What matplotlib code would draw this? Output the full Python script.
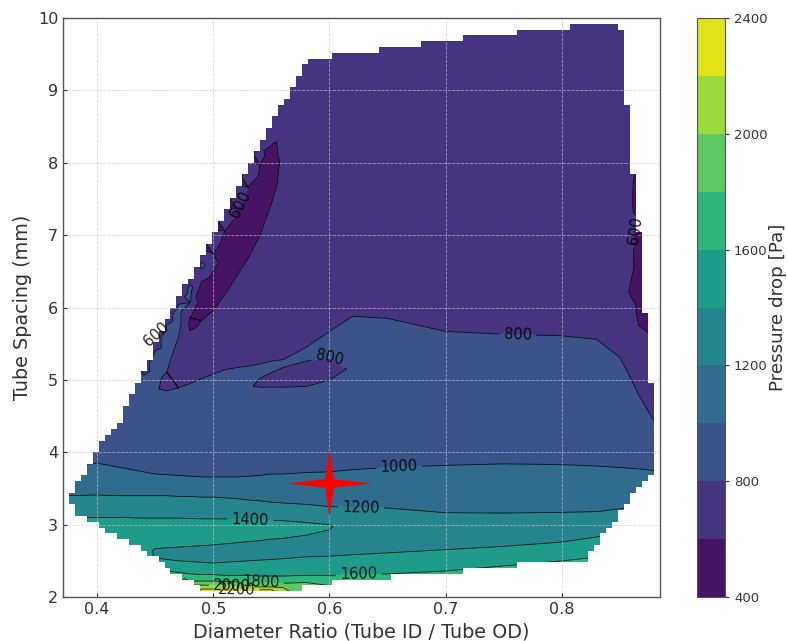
import numpy as np
import matplotlib
matplotlib.use("Agg")
import matplotlib.pyplot as plt
import matplotlib.tri as mtri
from matplotlib.path import Path
from matplotlib.colors import ListedColormap

# pressure drop [Pa] read along lines of constant diameter ratio
# diameter ratio -> [(tube spacing mm, pressure drop Pa), ...]
profiles = {
    0.370: [(1.95, 1500), (2.90, 1480), (3.10, 1400), (3.40, 1200), (3.80, 1000), (4.40, 920), (5.50, 880), (10.05, 850)],
    0.400: [(1.95, 1520), (2.90, 1480), (3.10, 1400), (3.41, 1200), (3.85, 1000), (4.40, 920), (5.50, 880), (10.05, 850)],
    0.420: [(1.95, 1540), (2.85, 1480), (3.10, 1400), (3.40, 1200), (3.79, 1000), (4.40, 910), (5.50, 870), (10.05, 850)],
    0.440: [(1.95, 1600), (2.45, 1520), (2.75, 1480), (3.09, 1400), (3.40, 1200), (3.73, 1000), (4.40, 900), (4.99, 860),
            (5.14, 740), (5.29, 560), (10.05, 700)],
    0.450: [(1.95, 1750), (2.40, 1500), (2.54, 1400), (2.60, 1375), (2.67, 1400), (2.88, 1480), (3.09, 1400), (3.40, 1200),
            (3.70, 1000), (4.30, 900), (4.82, 820), (5.10, 850), (5.33, 860), (5.48, 740), (5.63, 560), (10.05, 700)],
    0.460: [(1.95, 1850), (2.36, 1600), (2.52, 1400), (2.60, 1355), (2.68, 1400), (2.88, 1480), (3.09, 1400), (3.40, 1200),
            (3.69, 1000), (4.30, 900), (4.85, 800), (4.98, 760), (5.11, 800), (5.40, 860), (5.68, 860), (5.83, 740),
            (5.98, 560), (10.05, 700)],
    0.470: [(1.95, 1950), (2.34, 1600), (2.50, 1400), (2.60, 1345), (2.69, 1400), (2.88, 1480), (3.09, 1400), (3.39, 1200),
            (3.68, 1000), (4.30, 900), (4.89, 800), (5.24, 720), (5.59, 800), (5.80, 860), (5.97, 860), (6.12, 740),
            (6.27, 560), (10.05, 700)],
    0.480: [(1.95, 2250), (2.17, 2000), (2.22, 1800), (2.32, 1600), (2.49, 1400), (2.60, 1340), (2.70, 1400), (2.87, 1480),
            (3.085, 1400), (3.39, 1200), (3.67, 1000), (4.30, 900), (4.95, 800), (5.30, 705), (5.60, 630), (5.68, 600),
            (5.77, 565), (5.86, 600), (5.96, 700), (6.07, 800), (6.18, 860), (6.25, 860), (6.40, 740), (6.55, 560),
            (10.05, 700)],
    0.485: [(5.72, 600), (5.93, 540), (6.14, 600)],
    0.490: [(1.95, 2320), (2.11, 2200), (2.165, 2000), (2.22, 1800), (2.31, 1600), (2.48, 1400), (2.60, 1335), (2.71, 1400),
            (2.87, 1480), (3.08, 1400), (3.38, 1200), (3.66, 1000), (4.30, 900), (5.02, 800), (5.40, 700), (5.82, 600),
            (6.09, 520), (6.36, 600), (6.44, 700), (6.53, 800), (6.58, 850), (6.69, 740), (6.84, 560), (10.05, 700)],
    0.500: [(1.95, 2350), (2.05, 2300), (2.11, 2200), (2.16, 2000), (2.22, 1800), (2.31, 1600), (2.47, 1400), (2.60, 1330),
            (2.72, 1400), (2.87, 1480), (3.08, 1400), (3.38, 1200), (3.66, 1000), (4.30, 900), (5.08, 800), (5.50, 690),
            (5.96, 600), (6.36, 505), (6.75, 600), (6.86, 640), (6.99, 630), (7.17, 560), (10.05, 700)],
    0.510: [(1.95, 2380), (2.05, 2320), (2.105, 2200), (2.155, 2000), (2.215, 1800), (2.30, 1600), (2.48, 1400), (2.60, 1330),
            (2.735, 1400), (2.87, 1475), (3.08, 1400), (3.37, 1200), (3.66, 1000), (4.30, 900), (5.14, 800), (5.60, 700),
            (6.18, 600), (6.62, 500), (7.06, 600), (7.17, 640), (7.30, 630), (7.48, 560), (10.05, 700)],
    0.520: [(1.95, 2380), (2.05, 2330), (2.10, 2200), (2.15, 2000), (2.21, 1800), (2.30, 1600), (2.49, 1400), (2.61, 1330),
            (2.75, 1400), (2.88, 1470), (3.075, 1400), (3.36, 1200), (3.66, 1000), (4.30, 900), (5.17, 800), (5.80, 700),
            (6.43, 600), (6.90, 500), (7.37, 600), (7.48, 640), (7.62, 630), (7.80, 560), (10.05, 700)],
    0.530: [(1.95, 2380), (2.05, 2330), (2.10, 2200), (2.145, 2000), (2.21, 1800), (2.30, 1600), (2.50, 1400), (2.62, 1335),
            (2.765, 1400), (2.89, 1465), (3.07, 1400), (3.34, 1200), (3.67, 1000), (4.30, 900), (4.88, 815), (5.19, 800),
            (5.90, 700), (6.68, 600), (7.17, 505), (7.67, 600), (7.79, 640), (7.93, 630), (8.11, 560), (10.05, 700)],
    0.540: [(1.95, 2380), (2.05, 2320), (2.10, 2200), (2.14, 2000), (2.20, 1800), (2.29, 1600), (2.51, 1400), (2.63, 1340),
            (2.78, 1400), (2.90, 1455), (3.065, 1400), (3.33, 1200), (3.68, 1000), (4.30, 900), (4.90, 800), (4.96, 780),
            (5.02, 800), (5.12, 815), (5.22, 800), (6.00, 700), (6.99, 600), (7.48, 520), (7.98, 600), (8.10, 640),
            (8.24, 630), (8.42, 560), (10.05, 700)],
    0.548: [(8.08, 565)],
    0.550: [(1.95, 2350), (2.05, 2300), (2.10, 2200), (2.14, 2000), (2.195, 1800), (2.29, 1600), (2.52, 1400), (2.65, 1345),
            (2.80, 1400), (2.92, 1445), (3.06, 1400), (3.31, 1200), (3.70, 1000), (4.30, 900), (4.90, 800), (5.00, 765),
            (5.10, 800), (5.18, 815), (5.26, 800), (6.20, 700), (7.43, 600), (7.84, 550), (8.24, 600), (8.38, 640),
            (8.55, 640), (10.05, 690)],
    0.553: [(8.25, 590)],
    0.560: [(1.95, 2150), (2.13, 2000), (2.19, 1800), (2.29, 1600), (2.53, 1400), (2.66, 1350), (2.81, 1400), (2.93, 1440),
            (3.055, 1400), (3.30, 1200), (3.70, 1000), (4.30, 900), (4.90, 800), (5.035, 750), (5.17, 800), (5.22, 815),
            (5.28, 800), (6.30, 700), (7.60, 650), (8.10, 620), (8.50, 650), (8.82, 660), (10.05, 690)],
    0.580: [(1.95, 2000), (2.20, 1800), (2.30, 1600), (2.555, 1400), (2.71, 1320), (2.855, 1400), (2.95, 1425), (3.03, 1400),
            (3.28, 1200), (3.72, 1000), (4.30, 900), (4.91, 800), (5.085, 745), (5.26, 800), (5.35, 825), (5.45, 800),
            (6.50, 710), (8.50, 690), (10.05, 690)],
    0.600: [(1.95, 1900), (2.20, 1780), (2.30, 1600), (2.565, 1400), (2.75, 1300), (2.93, 1400), (2.965, 1405), (3.00, 1400),
            (3.25, 1200), (3.73, 1000), (4.30, 900), (5.00, 800), (5.15, 760), (5.30, 800), (5.48, 830), (5.67, 800),
            (6.50, 720), (10.05, 700)],
    0.620: [(1.95, 1850), (2.20, 1760), (2.31, 1600), (2.585, 1400), (2.80, 1310), (3.00, 1370), (3.24, 1200), (3.76, 1000),
            (4.30, 900), (5.15, 815), (5.50, 830), (5.88, 800), (6.60, 725), (10.05, 700)],
    0.650: [(1.95, 1800), (2.25, 1680), (2.32, 1600), (2.61, 1400), (2.90, 1310), (3.23, 1200), (3.79, 1000), (4.40, 900),
            (5.20, 850), (5.85, 800), (6.60, 730), (10.05, 700)],
    0.700: [(1.95, 1750), (2.36, 1600), (2.655, 1400), (2.95, 1300), (3.165, 1200), (3.82, 1000), (4.40, 900), (5.10, 860),
            (5.67, 800), (6.60, 730), (10.05, 700)],
    0.750: [(1.95, 1750), (2.43, 1600), (2.70, 1400), (2.95, 1300), (3.16, 1200), (3.84, 1000), (4.40, 900), (5.10, 860),
            (5.63, 800), (6.60, 730), (10.05, 700)],
    0.800: [(1.95, 1750), (2.50, 1600), (2.76, 1400), (2.97, 1300), (3.17, 1200), (3.83, 1000), (4.40, 900), (5.10, 860),
            (5.61, 800), (6.60, 730), (10.05, 700)],
    0.830: [(1.95, 1750), (2.55, 1600), (2.83, 1400), (3.00, 1300), (3.18, 1200), (3.81, 1000), (4.40, 900), (5.00, 860),
            (5.56, 800), (6.60, 730), (10.05, 700)],
    0.850: [(1.95, 1750), (2.60, 1600), (2.90, 1400), (3.05, 1300), (3.22, 1200), (3.79, 1000), (4.40, 880), (5.00, 840),
            (5.31, 800), (6.00, 720), (7.00, 700), (10.05, 700)],
    0.858: [(1.95, 1700), (3.00, 1350), (3.24, 1200), (3.78, 1000), (4.40, 870), (5.06, 800), (5.60, 700), (6.00, 660),
            (7.00, 640), (7.80, 640), (8.30, 680), (10.05, 700)],
    0.866: [(1.95, 1700), (3.00, 1350), (3.40, 1150), (3.77, 1000), (4.40, 850), (4.80, 800), (5.40, 680), (5.75, 600),
            (6.10, 560), (7.00, 545), (7.70, 550), (8.00, 600), (8.40, 680), (10.05, 700)],
    0.879: [(1.95, 1700), (3.00, 1350), (3.50, 1100), (3.75, 1000), (4.44, 800), (5.00, 690), (5.60, 600), (6.00, 550),
            (7.50, 540), (8.30, 640), (10.05, 700)],
    0.890: [(1.95, 1700), (3.00, 1350), (3.50, 1100), (3.75, 1000), (4.44, 800), (5.00, 690), (5.60, 600), (6.00, 550),
            (7.50, 540), (8.30, 640), (10.05, 700)],
}

# outline of the simulated design space
domain_x = [0.581, 0.612, 0.655, 0.693, 0.730, 0.773, 0.816, 0.849, 0.853, 0.853, 0.859, 0.859, 0.864, 0.870,
            0.874, 0.877, 0.879, 0.866, 0.853, 0.844, 0.834, 0.823, 0.823, 0.776, 0.722, 0.666, 0.608, 0.555,
            0.491, 0.483, 0.463, 0.440, 0.418, 0.400, 0.379, 0.377, 0.379, 0.392, 0.397, 0.420, 0.460, 0.500, 0.552]
domain_y = [9.42, 9.51, 9.58, 9.67, 9.75, 9.82, 9.90, 9.90, 9.76, 8.86, 8.75, 7.87, 7.80, 5.96,
            5.83, 4.86, 3.75, 3.52, 3.24, 2.99, 2.83, 2.58, 2.48, 2.47, 2.37, 2.30, 2.21, 2.06,
            2.06, 2.19, 2.37, 2.65, 2.83, 2.99, 3.20, 3.38, 3.48, 3.75, 4.00, 4.44, 5.83, 6.97, 8.59]

levels = np.arange(400, 2401, 200)
line_levels = np.arange(600, 2201, 200)
cbar_ticks = [400, 800, 1200, 1600, 2000, 2400]

# where the contour labels sit: level -> [(diameter ratio, spacing), ...]
label_spots = {
    600: [(0.522, 7.45), (0.865, 7.05), (0.451, 5.63)],
    800: [(0.600, 5.30), (0.762, 5.63)],
    1000: [(0.660, 3.80)],
    1200: [(0.627, 3.24)],
    1400: [(0.532, 3.075)],
    1600: [(0.625, 2.32)],
    1800: [(0.541, 2.21)],
    2000: [(0.516, 2.15)],
    2200: [(0.520, 2.105)],
}

design_point = (0.600, 3.58)

xs, ys, zs = [], [], []
for xv, pts in profiles.items():
    for yv, zv in pts:
        xs.append(xv)
        ys.append(yv)
        zs.append(zv)
xs = np.array(xs)
ys = np.array(ys)
zs = np.array(zs, dtype=float)

# triangulate in roughly screen-proportional units, then use data coords
tri0 = mtri.Triangulation(xs * 16.0, ys)
tri = mtri.Triangulation(xs, ys, tri0.triangles)

fig = plt.figure(figsize=(7.88, 6.41), dpi=100)
ax = fig.add_axes([0.080, 0.0686, 0.7576, 0.9033])
cax = fig.add_axes([0.8845, 0.0686, 0.0355, 0.9033])

xlim = (0.3707, 0.8845)
ylim = (2.0, 10.0)

cf = ax.tricontourf(tri, zs, levels=levels, cmap="viridis", zorder=1)

# one line set per level so each can take its own labels
for lvl in line_levels:
    cs = ax.tricontour(tri, zs, levels=[lvl], colors="k", linewidths=0.6, alpha=0.85, zorder=2)
    if lvl in label_spots:
        ax.clabel(cs, manual=label_spots[lvl], inline=True, inline_spacing=4,
                  fontsize=10.5, fmt="%d", colors="k")

# blank out everything outside the design space on a coarse grid
xe = np.linspace(xlim[0], xlim[1], 101)
ye = np.linspace(ylim[0], ylim[1], 101)
XX, YY = np.meshgrid((xe[:-1] + xe[1:]) / 2, (ye[:-1] + ye[1:]) / 2)
outline = Path(np.column_stack([domain_x, domain_y]))
inside = outline.contains_points(np.column_stack([XX.ravel(), YY.ravel()])).reshape(XX.shape)
outside = np.ma.masked_where(inside, np.ones_like(XX))
ax.pcolormesh(xe, ye, outside, cmap=ListedColormap(["white"]), shading="flat",
              antialiased=False, edgecolors="none", zorder=2.2)

star = Path([(0, 1), (0.13, 0.13), (1.27, 0), (0.13, -0.13), (0, -1), (-0.13, -0.13),
             (-1.27, 0), (-0.13, 0.13), (0, 1)],
            [Path.MOVETO] + [Path.LINETO] * 7 + [Path.CLOSEPOLY])
ax.plot(design_point[0], design_point[1], marker=star, markersize=60, color="red",
        markeredgewidth=0, linestyle="none", zorder=5)

ax.set_xlim(*xlim)
ax.set_ylim(*ylim)
ax.set_xticks([0.4, 0.5, 0.6, 0.7, 0.8])
ax.set_yticks(range(2, 11))
ax.set_axisbelow(False)
ax.grid(True, linestyle="--", linewidth=0.6, color="#c8c8c8", alpha=0.7)
ax.tick_params(labelsize=11.5, colors="#333333", direction="in", length=3, width=0.8)
for s in ax.spines.values():
    s.set_color("#555555")
    s.set_linewidth(1.0)
    s.set_zorder(4)
ax.set_xlabel("Diameter Ratio (Tube ID / Tube OD)", fontsize=13.8, color="#333333")
ax.set_ylabel("Tube Spacing (mm)", fontsize=13.8, color="#333333")

cb = fig.colorbar(cf, cax=cax, ticks=cbar_ticks)
cb.set_label("Pressure drop [Pa]", fontsize=13.2, color="#333333", labelpad=1)
cb.ax.tick_params(labelsize=9.5, colors="#333333", length=3, width=0.8)
cb.outline.set_edgecolor("#555555")
cb.outline.set_linewidth(0.8)

fig.savefig("out.png", dpi=100)
